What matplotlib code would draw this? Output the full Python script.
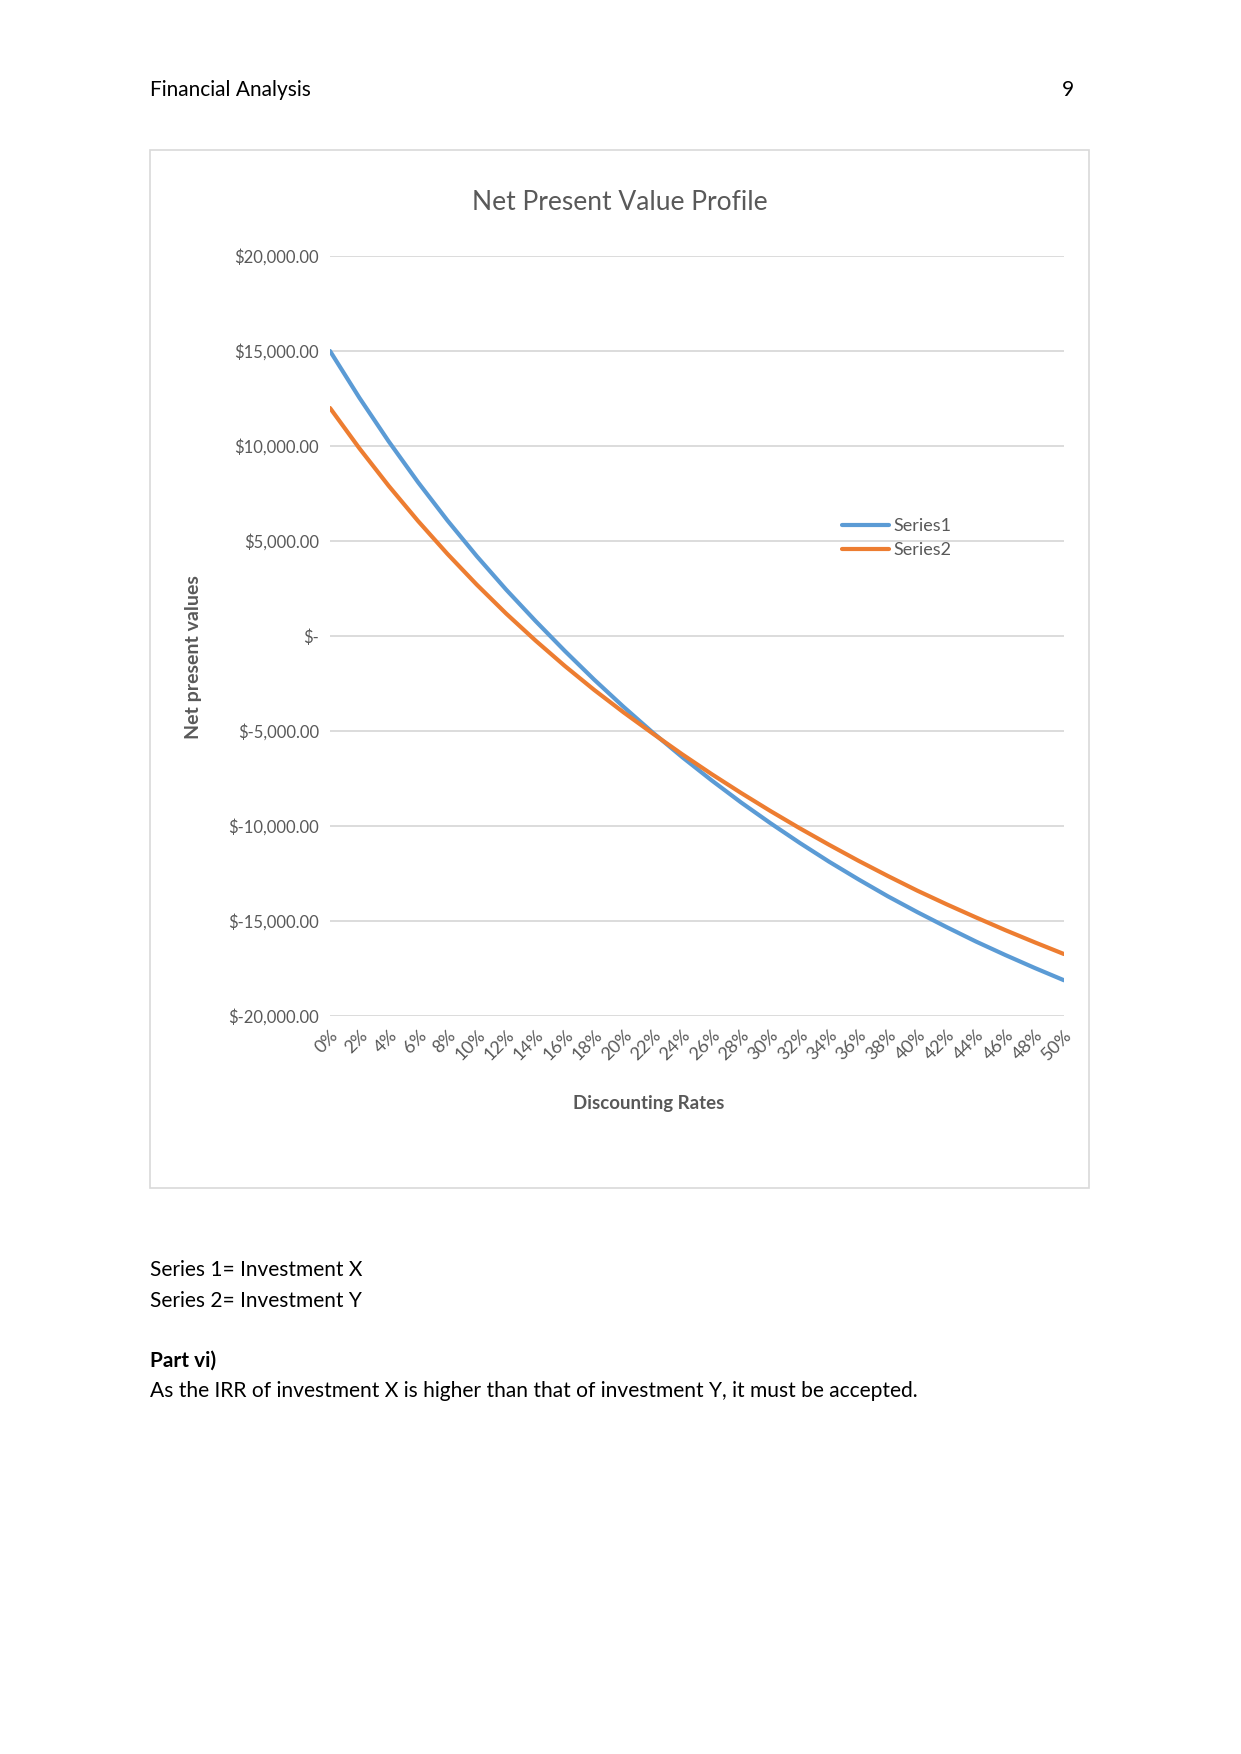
import matplotlib
matplotlib.use("Agg")
import matplotlib.pyplot as plt
from matplotlib.patches import Rectangle

# ---- data ----
rates = [0, 2, 4, 6, 8, 10, 12, 14, 16, 18, 20, 22, 24, 26, 28, 30,
         32, 34, 36, 38, 40, 42, 44, 46, 48, 50]
rate_labels = [f"{r}%" for r in rates]
series1 = [15000, 12540, 10240, 8090, 6080, 4200, 2440, 790, -790, -2300,
           -3730, -5090, -6380, -7600, -8760, -9850, -10890, -11880,
           -12810, -13700, -14530, -15320, -16080, -16790, -17470, -18120]
series2 = [12000, 9880, 7900, 6050, 4320, 2700, 1180, -240, -1580, -2840,
           -4020, -5140, -6230, -7270, -8260, -9210, -10120, -10990,
           -11830, -12630, -13400, -14120, -14810, -15480, -16120, -16740]
y_ticks = [-20000, -15000, -10000, -5000, 0, 5000, 10000, 15000, 20000]
y_tick_labels = ["$-20,000.00", "$-15,000.00", "$-10,000.00", "$-5,000.00", "$-",
                 "$5,000.00", "$10,000.00", "$15,000.00", "$20,000.00"]
series_names = ["Series1", "Series2"]

W, H = 1241, 1754
fig = plt.figure(figsize=(W / 100, H / 100), dpi=100)
plt.rcParams['font.family'] = ['Lato', 'DejaVu Sans']

def fx(px):
    return px / W

def fy(py):
    return 1 - py / H

GRAY = "#595959"
GRID = "#D9D9D9"
BLUE = "#5B9BD5"
ORANGE = "#ED7D31"

# page header
fig.text(fx(150), fy(90), "Financial Analysis", fontsize=15, color="black",
         ha="left", va="center")
fig.text(fx(1074), fy(90), "9", fontsize=15, color="black", ha="right", va="center")

# chart border
fig.patches.append(Rectangle((fx(150), fy(1188)), fx(1089) - fx(150), fy(150) - fy(1188),
                             transform=fig.transFigure, fill=False,
                             edgecolor=GRID, linewidth=1.2))

# axes
ax = fig.add_axes([fx(330), fy(1016), fx(1064) - fx(330), fy(256) - fy(1016)])
ax.plot(rates, series1, color=BLUE, linewidth=3.0, solid_capstyle="round",
        label=series_names[0], zorder=3)
ax.plot(rates, series2, color=ORANGE, linewidth=3.0, solid_capstyle="round",
        label=series_names[1], zorder=3)
ax.set_xlim(0, 50)
ax.set_ylim(-20000, 20000)
ax.set_yticks(y_ticks)
ax.set_yticklabels(y_tick_labels)
ax.set_xticks(rates)
ax.set_xticklabels(rate_labels, rotation=45, ha="right", va="top",
                   rotation_mode="anchor")
for s in ax.spines.values():
    s.set_visible(False)
ax.grid(axis="y", color=GRID, linewidth=1.3)
ax.set_axisbelow(True)
ax.tick_params(axis="both", length=0, labelcolor=GRAY)
ax.tick_params(axis="y", pad=8, labelsize=12)
ax.tick_params(axis="x", pad=8, labelsize=13)
ax.patch.set_alpha(0)

leg = ax.legend(loc="upper left", bbox_to_anchor=((842 - 330) / 734, (1016 - 518) / 760),
                frameon=False, fontsize=13, handlelength=2.6, handletextpad=0.25,
                labelspacing=0.45, borderpad=0, borderaxespad=0)
for t in leg.get_texts():
    t.set_color(GRAY)

# titles
fig.text(fx(620), fy(202), "Net Present Value Profile", fontsize=19, color=GRAY,
         ha="center", va="center")
fig.text(fx(649), fy(1104), "Discounting Rates", fontsize=13.4, fontweight="bold",
         color=GRAY, ha="center", va="center")
fig.text(fx(193), fy(657), "Net present values", fontsize=14, fontweight="bold",
         color=GRAY, ha="center", va="center", rotation=90)

# body text
fig.text(fx(150), fy(1270), "Series 1= Investment X", fontsize=15, color="black",
         ha="left", va="center")
fig.text(fx(150), fy(1301), "Series 2= Investment Y", fontsize=15, color="black",
         ha="left", va="center")
fig.text(fx(150), fy(1361), "Part vi)", fontsize=15, fontweight="bold", color="black",
         ha="left", va="center")
fig.text(fx(150), fy(1391),
         "As the IRR of investment X is higher than that of investment Y, it must be accepted.",
         fontsize=15.1, color="black", ha="left", va="center")

fig.savefig("out.png", dpi=100, facecolor="white")
